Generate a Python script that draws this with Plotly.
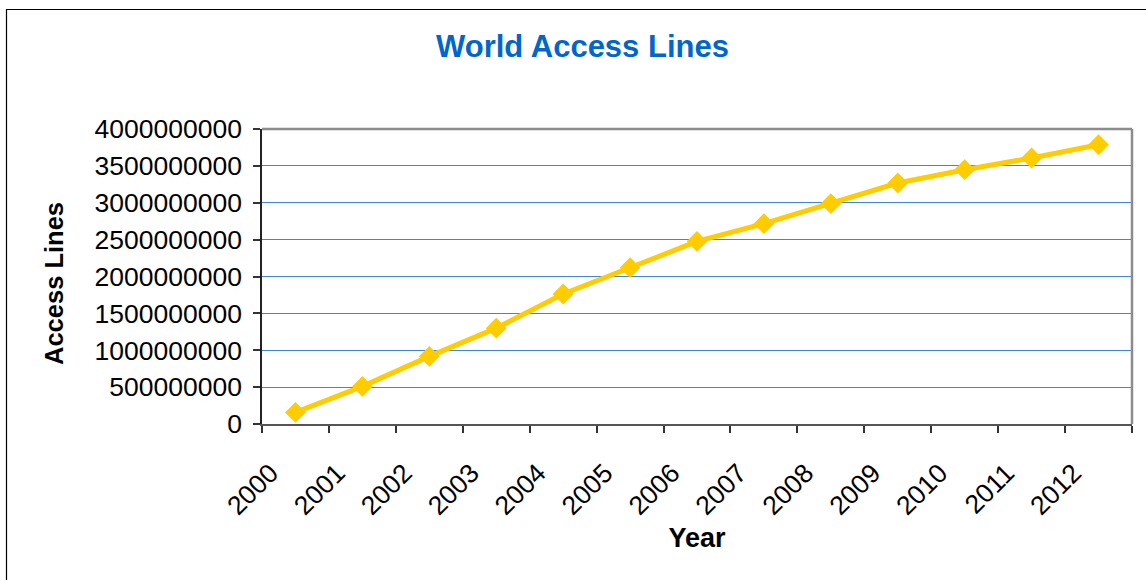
import plotly.graph_objects as go

years = ["2000", "2001", "2002", "2003", "2004", "2005", "2006",
         "2007", "2008", "2009", "2010", "2011", "2012"]
access_lines = [157e6, 510e6, 917e6, 1300e6, 1763e6, 2120e6, 2476e6,
                2716e6, 2987e6, 3268e6, 3448e6, 3607e6, 3787e6]
y_ticks = [0, 500000000, 1000000000, 1500000000, 2000000000, 2500000000,
           3000000000, 3500000000, 4000000000]

W, H = 1146, 580
L, R, T, B = 262, 14, 129, 156
pw, ph = W - L - R, H - T - B

def px(x):
    return (x - L) / pw

def py(y):
    return (H - B - y) / ph

fig = go.Figure()
fig.add_trace(go.Scatter(
    x=years, y=access_lines, mode="lines+markers",
    line=dict(color="#FFCC00", width=5),
    marker=dict(symbol="diamond", size=16, color="#FFCC00"),
    showlegend=False,
))

font = "Liberation Sans, Arial, sans-serif"

fig.update_layout(
    width=W, height=H,
    margin=dict(l=L, r=R, t=T, b=B),
    paper_bgcolor="white", plot_bgcolor="white",
    title=dict(text="<b>World Access Lines</b>", x=(430 + 735) / 2 / W, xanchor="center",
               y=1 - 46 / H, yanchor="middle",
               font=dict(family=font, size=31, color="#0066CC")),
    xaxis=dict(
        type="category", range=[-0.5, 12.5],
        tickson="boundaries", ticks="outside", ticklen=7, tickwidth=1.5, tickcolor="#333333",
        tickangle=-45, tickfont=dict(family=font, size=26.5, color="black"),
        ticklabelshift=-25, ticklabelstandoff=21,
        showgrid=False, showline=True, linecolor="#555555", linewidth=2,
        title=dict(text="<b>Year</b>", font=dict(family=font, size=27, color="black"), standoff=8),
        fixedrange=True,
    ),
    yaxis=dict(
        range=[0, 4e9], tickvals=y_ticks, tickformat="d",
        ticks="outside", ticklen=7, tickwidth=1.5, tickcolor="#333333",
        tickfont=dict(family=font, size=26.5, color="black"), ticklabelstandoff=6,
        showgrid=True, gridcolor="#3D86D8", gridwidth=1,
        showline=True, linecolor="#222222", linewidth=1.5,
        zeroline=False,
        fixedrange=True,
    ),
    annotations=[
        dict(text="<b>Access Lines</b>", xref="paper", yref="paper",
             x=px(54), y=py(284), xanchor="center", yanchor="middle", textangle=-90,
             showarrow=False, font=dict(family=font, size=25.5, color="black")),
    ],
    shapes=[
        dict(type="line", xref="paper", yref="paper", x0=0, x1=1, y0=1, y1=1,
             line=dict(color="#8C8C8C", width=2.5)),
        dict(type="line", xref="paper", yref="paper", x0=1, x1=1, y0=0, y1=1,
             line=dict(color="#8C8C8C", width=2.5)),
        dict(type="rect", xref="paper", yref="paper",
             x0=px(6.5), x1=px(1160), y0=py(600), y1=py(9.5),
             line=dict(color="black", width=1.2), fillcolor="rgba(0,0,0,0)", layer="above"),
    ],
)

fig.write_html("out.html")
